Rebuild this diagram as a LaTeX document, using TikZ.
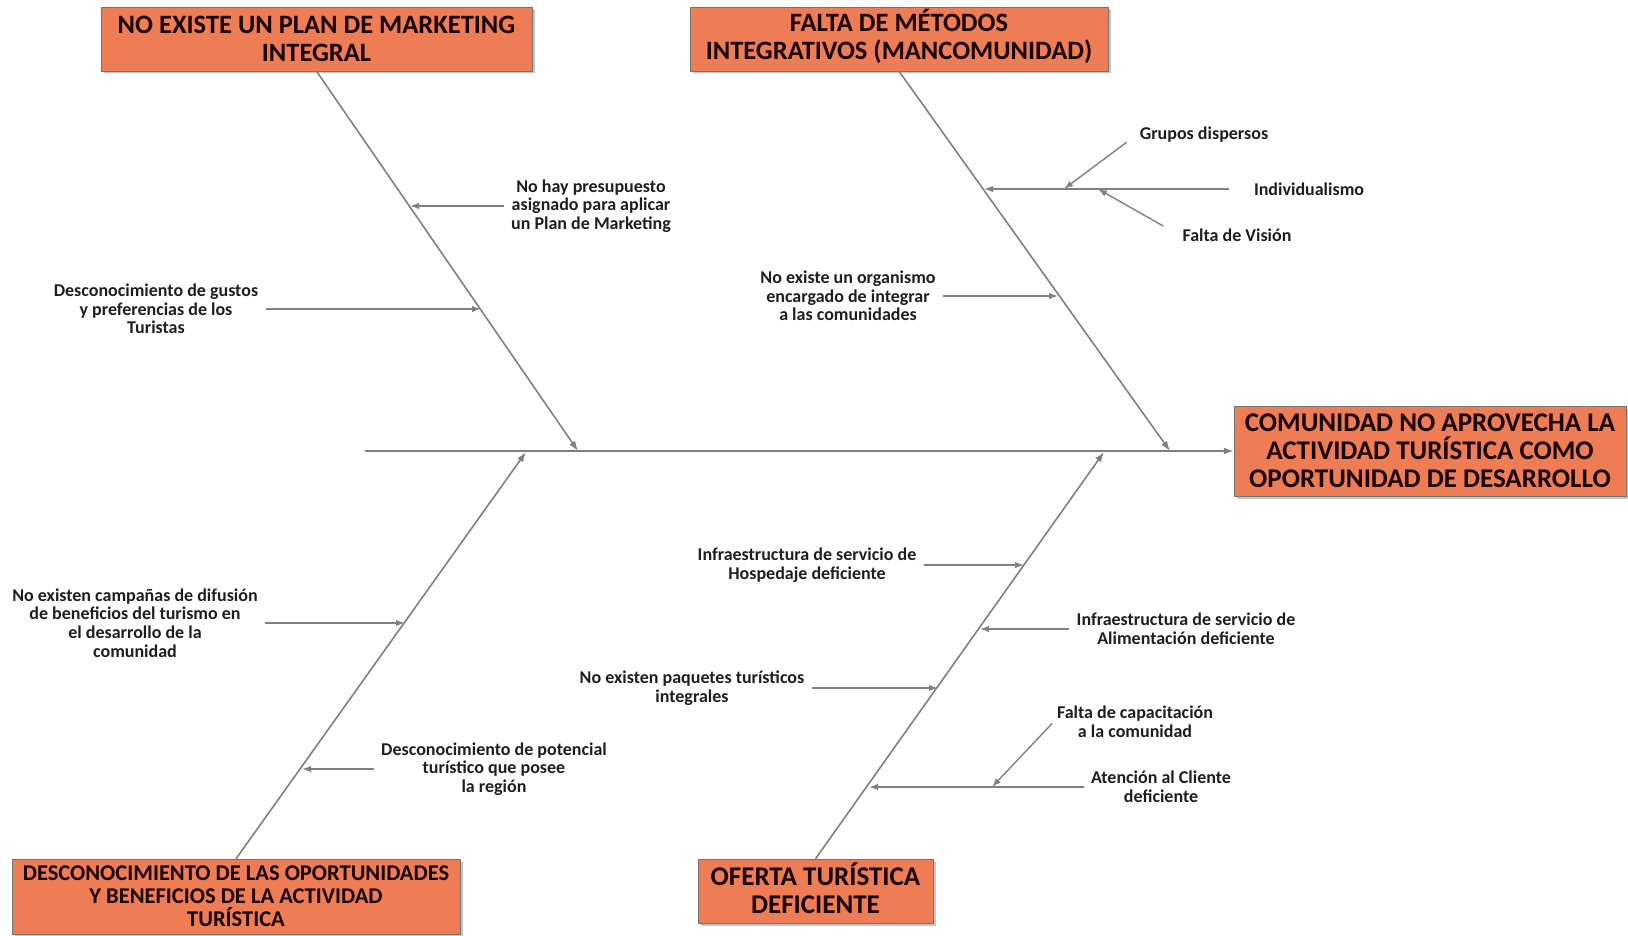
\documentclass[tikz,border=0pt]{standalone}
\usepackage{fontspec}
\setmainfont{Carlito}
\usetikzlibrary{arrows.meta,shadows}
\definecolor{causa}{RGB}{238,124,84}
\definecolor{linea}{RGB}{128,128,128}
\definecolor{texto}{RGB}{30,30,30}
\begin{document}
\begin{tikzpicture}[x=1pt,y=-1pt,
    caja/.style={draw=black!55, fill=causa, inner sep=0pt, align=center,
      drop shadow={shadow xshift=2.5pt,shadow yshift=-2.5pt,fill=black!45},
      text=black!90!red, font=\bfseries\fontsize{26.5}{28}\selectfont},
    nota/.style={align=center, text=texto, font=\bfseries\fontsize{18}{18.6}\selectfont},
    espina/.style={draw=linea, line width=1.6pt, -{Latex[length=10pt,width=7pt]}},
    flecha/.style={draw=linea, line width=1.4pt, shorten <=4pt, -{Latex[length=9pt,width=6.5pt]}}]
  \useasboundingbox (0,0) rectangle (1628,936);

  % cajas de causas y efecto
  \node[caja, minimum width=431, minimum height=64] (mkt) at (316.5,39)
    {NO EXISTE UN PLAN DE MARKETING\\INTEGRAL};
  \node[caja, minimum width=418, minimum height=64] (met) at (899,39)
    {FALTA DE M\smash{É}TODOS\\INTEGRATIVOS (MANCOMUNIDAD)};
  \node[caja, minimum width=392, minimum height=90, font=\bfseries\fontsize{27}{28}\selectfont] (efecto) at (1430,451)
    {COMUNIDAD NO APROVECHA LA\\ACTIVIDAD TURÍSTICA COMO\\OPORTUNIDAD DE DESARROLLO};
  \node[caja, minimum width=448, minimum height=75, font=\bfseries\fontsize{22.5}{23}\selectfont] (des) at (236,896.5)
    {DESCONOCIMIENTO DE LAS OPORTUNIDADES\\Y BENEFICIOS DE LA ACTIVIDAD\\TURÍSTICA};
  \node[caja, minimum width=235, minimum height=64, font=\bfseries\fontsize{27}{28}\selectfont] (ofe) at (815.5,891)
    {OFERTA TUR\smash{Í}STICA\\DEFICIENTE};

  % espina central
  \coordinate (cola) at (365,451);
  \draw[espina] (cola) -- (efecto.west);

  \coordinate (s1) at (578,451);
  \coordinate (s2) at (1170,451);
  \coordinate (s3) at (526,452);
  \coordinate (s4) at (1104,452);
  \draw[espina] (mkt.south) -- (s1);
  \draw[espina] (met.south) -- (s2);
  \draw[espina] (des.north) -- (s3);
  \draw[espina] (ofe.north) -- (s4);

  % subcausas
  \node[nota] (t1) at (591,206) {No hay presupuesto\\asignado para aplicar\\un Plan de Marketing};
  \node[nota] (t2) at (156,309) {Desconocimiento de gustos\\y preferencias de los\\Turistas};
  \node[nota] (t3) at (1204,135) {Grupos dispersos};
  \node[nota] (t4) at (1309,189) {Individualismo};
  \node[nota] (t5) at (1237,235) {Falta de Visión};
  \node[nota] (t6) at (848,296) {No existe un organismo\\encargado de integrar\\a las comunidades};
  \node[nota] (t7) at (807,565) {Infraestructura de servicio de\\Hospedaje deficiente};
  \node[nota] (t8) at (1186,629) {Infraestructura de servicio de\\Alimentación deficiente};
  \node[nota] (t9) at (692,688) {No existen paquetes turísticos\\integrales};
  \node[nota] (t10) at (1135,722) {Falta de capacitación\\a la comunidad};
  \node[nota] (t11) at (1161,787) {Atención al Cliente\\deficiente};
  \node[nota] (t12) at (135,623) {No existen campañas de difusión\\de beneficios del turismo en\\el desarrollo de la\\comunidad};
  \node[nota] (t13) at (494,769) {Desconocimiento de potencial\\turístico que posee\\la región};

  \coordinate (p1) at (410,206);
  \coordinate (p2) at (481,309);
  \coordinate (p4) at (984,189);
  \coordinate (p6) at (1058,296);
  \coordinate (p7) at (1024,565);
  \coordinate (p8) at (980,629);
  \coordinate (p9) at (938,688);
  \coordinate (p11) at (869,787);
  \coordinate (p12) at (405,623);
  \coordinate (p13) at (302,769);
  \coordinate (p3) at (1064,189);
  \coordinate (p5) at (1098,189);
  \coordinate (p10) at (992,787);

  \foreach \t/\p in {t1/p1,t2/p2,t6/p6,t7/p7,t8/p8,t9/p9,t11/p11,t12/p12,t13/p13}
    \draw[flecha] (\t) -- (\p);
  \draw[flecha, shorten <=21pt] (t4.west) -- (p4);
  \draw[flecha, shorten <=12pt] (t3.west) -- (p3);
  \draw[flecha, shorten <=18pt] (t5.west) -- (p5);
  \draw[flecha, shorten <=2pt] (t10.west) -- (p10);
\end{tikzpicture}
\end{document}
